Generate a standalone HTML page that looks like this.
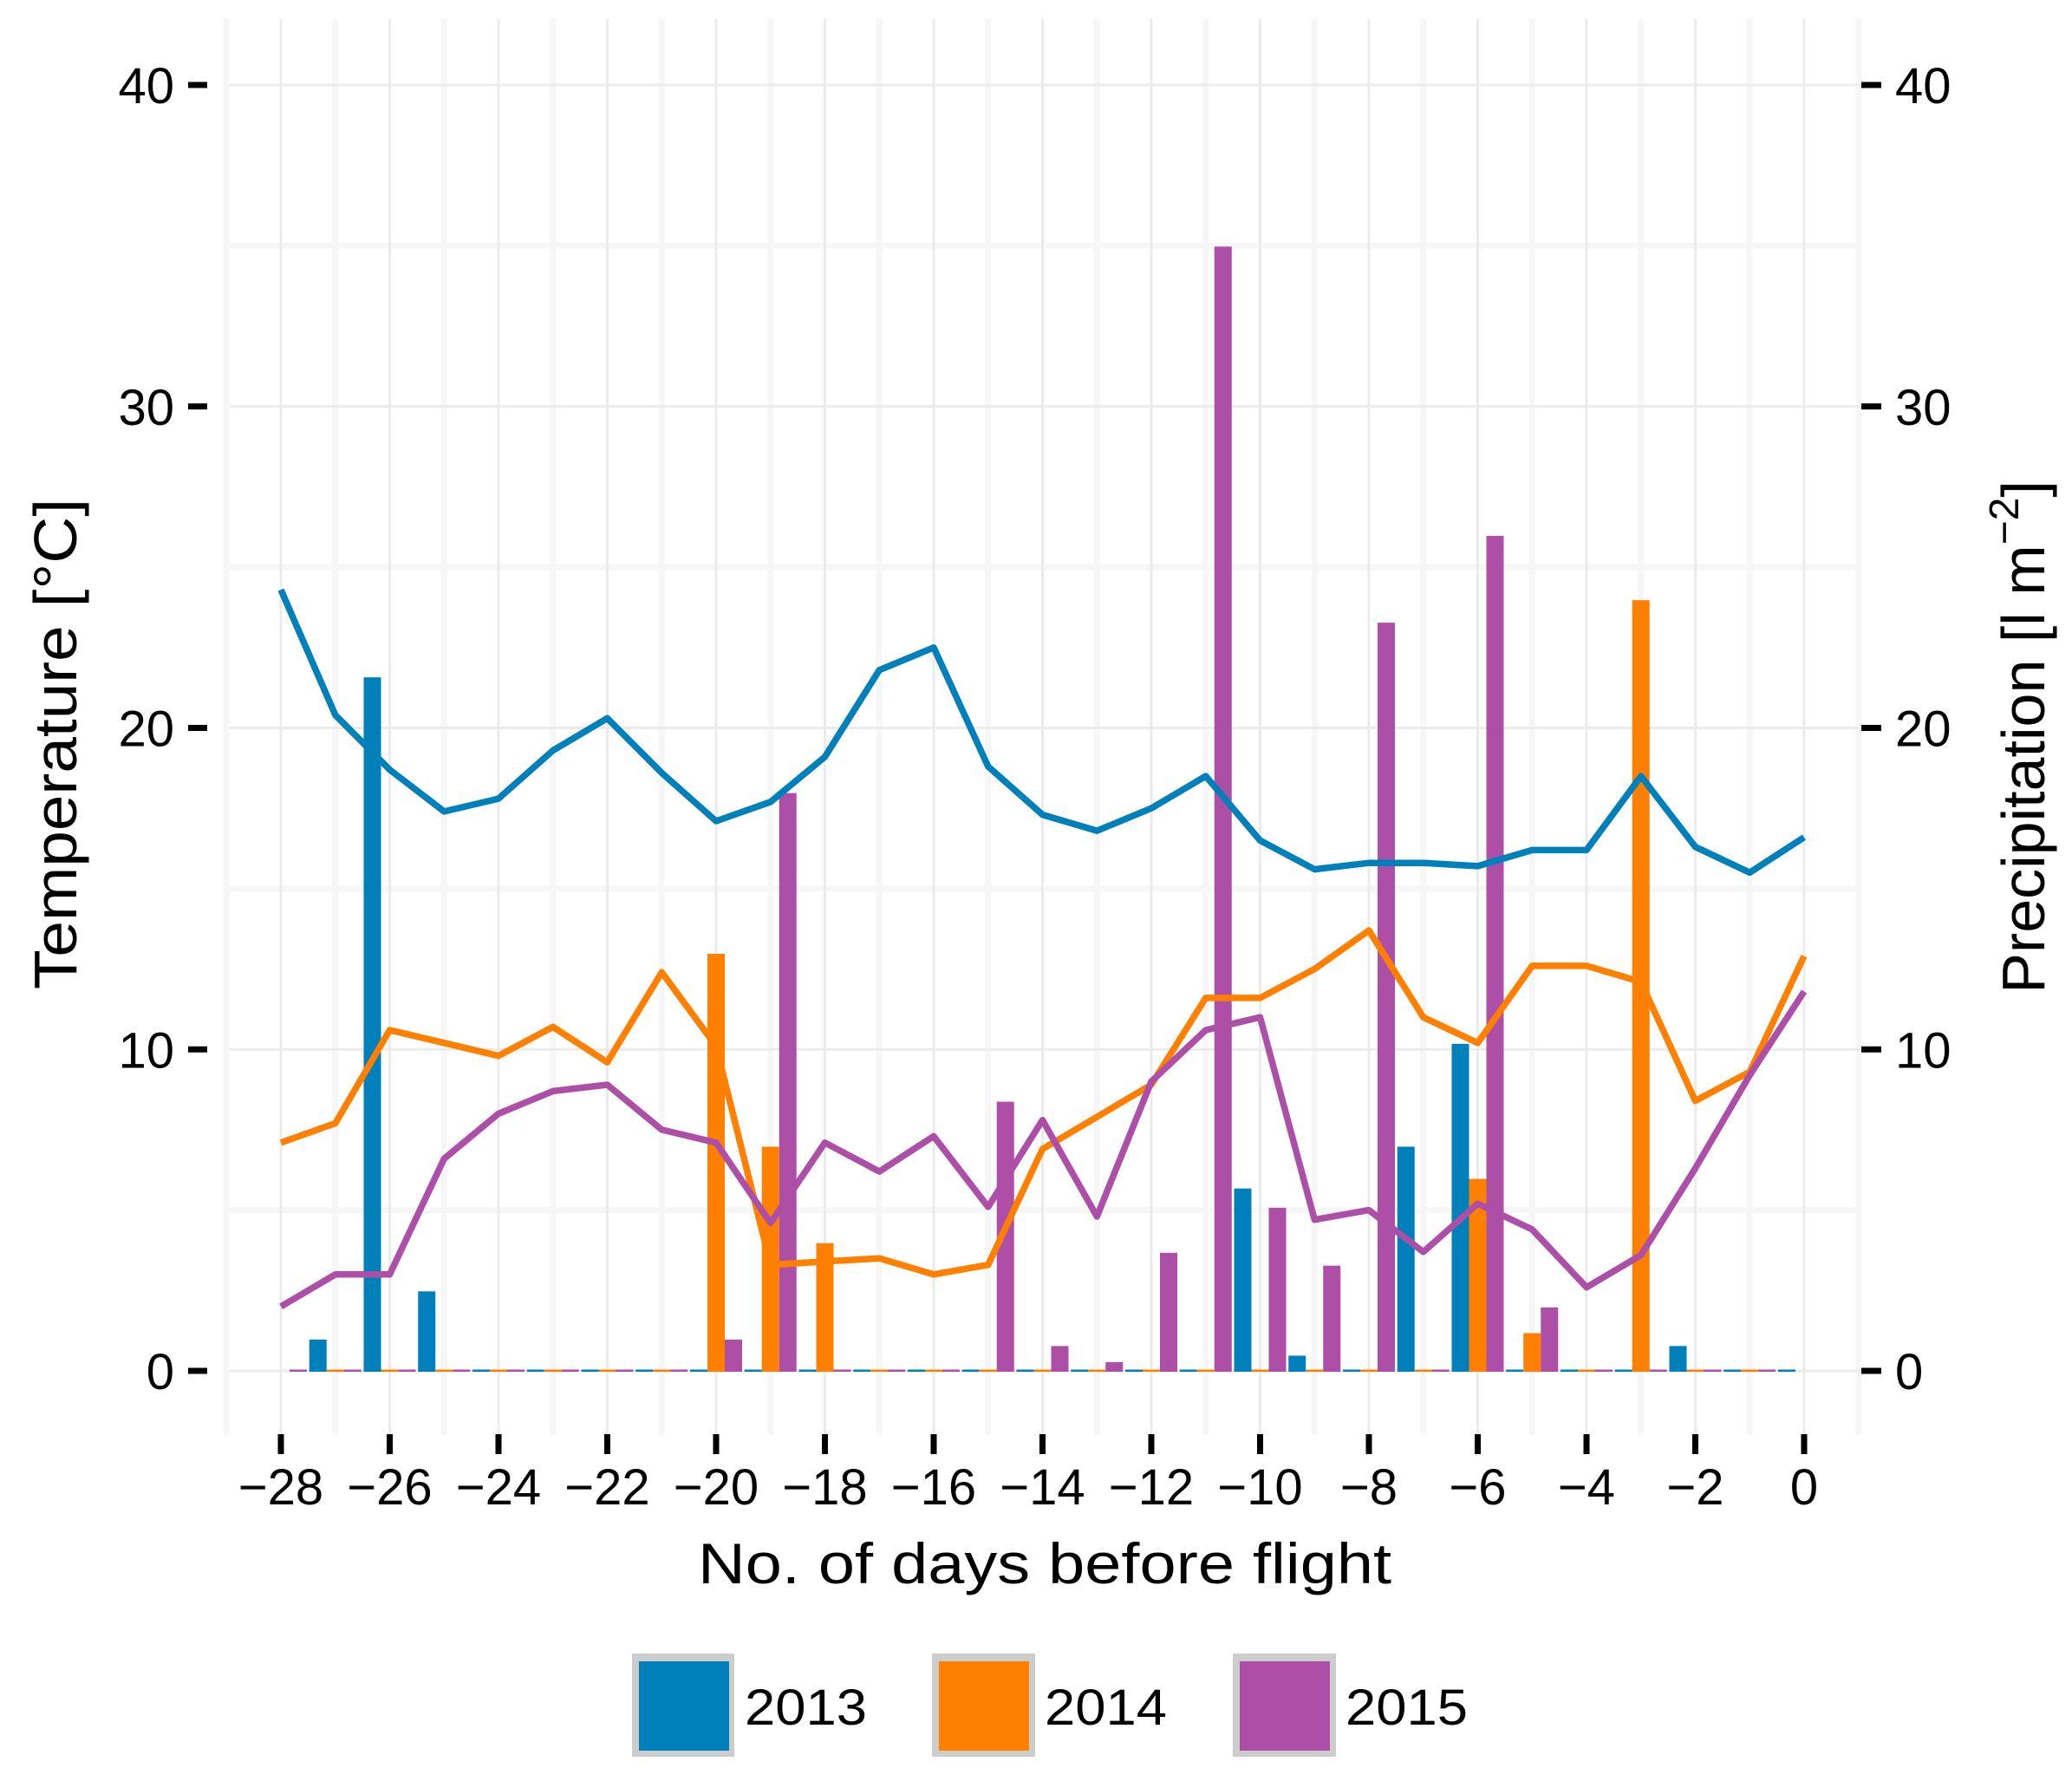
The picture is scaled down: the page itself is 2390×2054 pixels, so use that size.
<!DOCTYPE html>
<html><head><meta charset="utf-8"><style>
html,body{margin:0;padding:0;background:#fff;}
svg{display:block;font-family:"Liberation Sans",sans-serif;}
</style></head><body>
<svg id="chart" width="2390" height="2054" viewBox="0 0 2390 2054">
<g id="grid"></g>
<g id="bars"></g>
<g id="lines"></g>
<g id="axes"></g>
<text x="1205" y="1826" font-size="66" text-anchor="middle" textLength="800" lengthAdjust="spacingAndGlyphs">No. of days before flight</text>
<text transform="translate(88,858) rotate(-90)" font-size="70" text-anchor="middle" textLength="566" lengthAdjust="spacingAndGlyphs">Temperature [°C]</text>
<text transform="translate(2358,850) rotate(-90)" font-size="70" text-anchor="middle">Precipitation [l m<tspan dy="-30" font-size="48">−2</tspan><tspan dy="30">]</tspan></text>
<g>
<g><rect x="729" y="1907" width="118" height="119" fill="#cccccc"/><rect x="737" y="1916" width="104" height="103" fill="#0080bb"/><text x="859" y="1989" font-size="58" textLength="141" lengthAdjust="spacingAndGlyphs">2013</text></g>
<g><rect x="1075" y="1907" width="119" height="119" fill="#cccccc"/><rect x="1083" y="1916" width="104" height="103" fill="#ff7f00"/><text x="1205" y="1989" font-size="58" textLength="141" lengthAdjust="spacingAndGlyphs">2014</text></g>
<g><rect x="1422" y="1907" width="119" height="119" fill="#cccccc"/><rect x="1430" y="1916" width="104" height="103" fill="#ad4fa7"/><text x="1552" y="1989" font-size="58" textLength="141" lengthAdjust="spacingAndGlyphs">2015</text></g>
</g>
</svg>
<script>
const days = [-28,-27,-26,-25,-24,-23,-22,-21,-20,-19,-18,-17,-16,-15,-14,-13,-12,-11,-10,-9,-8,-7,-6,-5,-4,-3,-2,-1,0];
const temp2013 = [24.3,20.4,18.7,17.4,17.8,19.3,20.3,18.6,17.1,17.7,19.1,21.8,22.5,18.8,17.3,16.8,17.5,18.5,16.5,15.6,15.8,15.8,15.7,16.2,16.2,18.5,16.3,15.5,16.6];
const temp2014 = [7.1,7.7,10.6,10.2,9.8,10.7,9.6,12.4,10.1,3.3,3.4,3.5,3.0,3.3,6.9,7.9,8.9,11.6,11.6,12.5,13.7,11.0,10.2,12.6,12.6,12.1,8.4,9.3,12.9];
const temp2015 = [2.0,3.0,3.0,6.6,8.0,8.7,8.9,7.5,7.1,4.6,7.1,6.2,7.3,5.1,7.8,4.8,9.0,10.6,11.0,4.7,5.0,3.7,5.2,4.4,2.6,3.6,6.3,9.2,11.8];
const prec2013 = [null,1.0,21.6,2.5,0,0,0,0,0,0,0,0,0,0,0,0,0,0,5.7,0.5,0,7.0,10.2,0,0,0,0.8,0,0];
const prec2014 = [null,0,0,0,0,0,0,0,13.0,7.0,4.0,0,0,0,0,0,0,0,0,0,0,0,6.0,1.2,0,24.0,0,0,null];
const prec2015 = [0,0,0,0,0,0,0,0,1.0,18.0,0,0,0,8.4,0.8,0.3,3.7,35.0,5.1,3.3,23.3,0,26.0,2.0,0,0,0,0,null];
const yTicks = [0,10,20,30,40];
const xTicks = [-28,-26,-24,-22,-20,-18,-16,-14,-12,-10,-8,-6,-4,-2,0];

const NS='http://www.w3.org/2000/svg';
const PL=265, PR=2147, PT=22, PB=1655;
function xs(d){return 2081 + d*62.75;}
function ys(v){return 1581 - v*37.075;}
function mk(tag, attrs, parent){const e=document.createElementNS(NS,tag);for(const k in attrs)e.setAttribute(k,attrs[k]);parent.appendChild(e);return e;}
const grid=document.getElementById('grid'), bars=document.getElementById('bars'), lines=document.getElementById('lines'), axes=document.getElementById('axes');

for(let d=-29; d<=1; d++){ if(d%2!==0){ const l=mk('line',{x1:xs(d),x2:xs(d),y1:PT,y2:PB,stroke:'#f6f6f6','stroke-width':7},grid);

 } }
for(let v=5; v<=40; v+=10){ const l=mk('line',{x1:PL,x2:PR,y1:ys(v),y2:ys(v),stroke:'#f6f6f6','stroke-width':7},grid);

 }
xTicks.forEach(d=>{ const l=mk('line',{x1:xs(d),x2:xs(d),y1:PT,y2:PB,stroke:'#ebebeb','stroke-width':3},grid);

 });
yTicks.forEach(v=>{ const l=mk('line',{x1:PL,x2:PR,y1:ys(v),y2:ys(v),stroke:'#ebebeb','stroke-width':3},grid);

 });

const series=[[prec2013,'#0080bb',-1,'2013'],[prec2014,'#ff7f00',0,'2014'],[prec2015,'#ad4fa7',1,'2015']];
const bw=20;
series.forEach(s=>{ s[0].forEach((v,i)=>{ if(v===null) return; const cx=xs(days[i])+s[2]*bw; const h=Math.max(ys(0)-ys(v),2.5);
const r=mk('rect',{x:cx-bw/2,y:ys(0)-h+1,width:bw,height:h,fill:s[1]},bars);

 }); });

[[temp2013,'#0080bb','2013'],[temp2014,'#ff7f00','2014'],[temp2015,'#ad4fa7','2015']].forEach(s=>{
const pts=s[0].map((v,i)=>xs(days[i]).toFixed(1)+','+ys(v).toFixed(1)).join(' ');
const p=mk('polyline',{points:pts,fill:'none',stroke:s[1],'stroke-width':7.5,'stroke-linejoin':'round'},lines);

 });

yTicks.forEach(v=>{
const t1=mk('line',{x1:217,x2:239,y1:ys(v),y2:ys(v),stroke:'#000','stroke-width':7},axes);


const t2=mk('line',{x1:2147,x2:2170,y1:ys(v),y2:ys(v),stroke:'#000','stroke-width':7},axes);


const a=mk('text',{x:201,y:ys(v)+21,'font-size':58,'text-anchor':'end'},axes); a.textContent=v;


const b=mk('text',{x:2186,y:ys(v)+21,'font-size':58},axes); b.textContent=v;


});
xTicks.forEach(d=>{
const t=mk('line',{x1:xs(d),x2:xs(d),y1:1654,y2:1677,stroke:'#000','stroke-width':7},axes);


const l=mk('text',{x:xs(d),y:1735,'font-size':58,'text-anchor':'middle'},axes); l.textContent=(d<0?'\u2212'+(-d):String(d));


});
</script>
</body></html>
